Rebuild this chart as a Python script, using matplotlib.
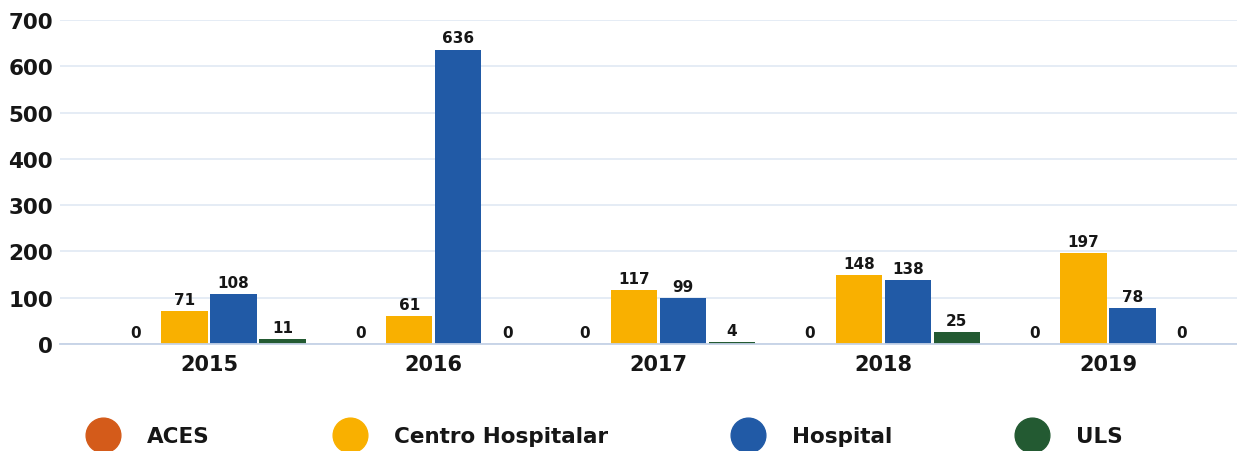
import matplotlib
matplotlib.use("Agg")
import matplotlib.pyplot as plt
from matplotlib.lines import Line2D
import numpy as np

years = ["2015", "2016", "2017", "2018", "2019"]
series_names = ["ACES", "Centro Hospitalar", "Hospital", "ULS"]
aces = [0, 0, 0, 0, 0]
centro = [71, 61, 117, 148, 197]
hospital = [108, 636, 99, 138, 78]
uls = [11, 0, 4, 25, 0]
colors = ["#d45b1a", "#f9b000", "#215aa6", "#235a32"]
yticks = [0, 100, 200, 300, 400, 500, 600, 700]

plt.rcParams['font.family'] = ['DejaVu Sans']
text_color = "#161616"

fig = plt.figure(figsize=(12.37, 4.52), dpi=100)
ax = fig.add_axes([60/1237, 107/452, 1 - 60/1237, (345-21)/452])

x = np.arange(len(years))
step = 0.218
width = 0.205
all_series = [aces, centro, hospital, uls]
for i, (vals, col) in enumerate(zip(all_series, colors)):
    pos = x + (i - 1.5) * step
    ax.bar(pos, vals, width=width, color=col, zorder=3)
    for p, v in zip(pos, vals):
        ax.annotate(str(v), (p, v), xytext=(0, 3), textcoords="offset points",
                    ha="center", va="bottom", fontsize=11, fontweight="bold",
                    color=text_color, zorder=4)

ax.set_xlim(-0.663, 4.574)
ax.set_ylim(0, 700)
ax.set_yticks(yticks)
ax.set_yticklabels([str(t) for t in yticks], fontsize=15.5, fontweight="bold", color=text_color)
ax.set_xticks(x)
ax.set_xticklabels(years, fontsize=15, fontweight="bold", color=text_color)
ax.tick_params(axis="y", length=0, pad=5)
ax.tick_params(axis="x", length=0, pad=7)
ax.grid(axis="y", color="#e3eaf4", linewidth=1.3, zorder=0)
for s in ["top", "right", "left"]:
    ax.spines[s].set_visible(False)
ax.spines["bottom"].set_color("#c5d2e6")
ax.spines["bottom"].set_linewidth(1.3)
ax.spines["bottom"].set_zorder(5)

fs = 15.5
fs_px = fs * 100 / 72
handles = [Line2D([0], [0], marker="o", linestyle="none", markersize=25,
                  markerfacecolor=c, markeredgecolor=c) for c in colors]
leg = fig.legend(handles, series_names, loc="center left",
                 bbox_to_anchor=((103 - 0.6 * fs_px) / 1237, 0.033),
                 ncol=4, frameon=False, handlelength=1.2, handletextpad=1.45,
                 columnspacing=5.9, borderpad=0, borderaxespad=0,
                 prop={"size": fs, "weight": "bold"})
for t in leg.get_texts():
    t.set_color(text_color)

fig.savefig("out.png", dpi=100)
